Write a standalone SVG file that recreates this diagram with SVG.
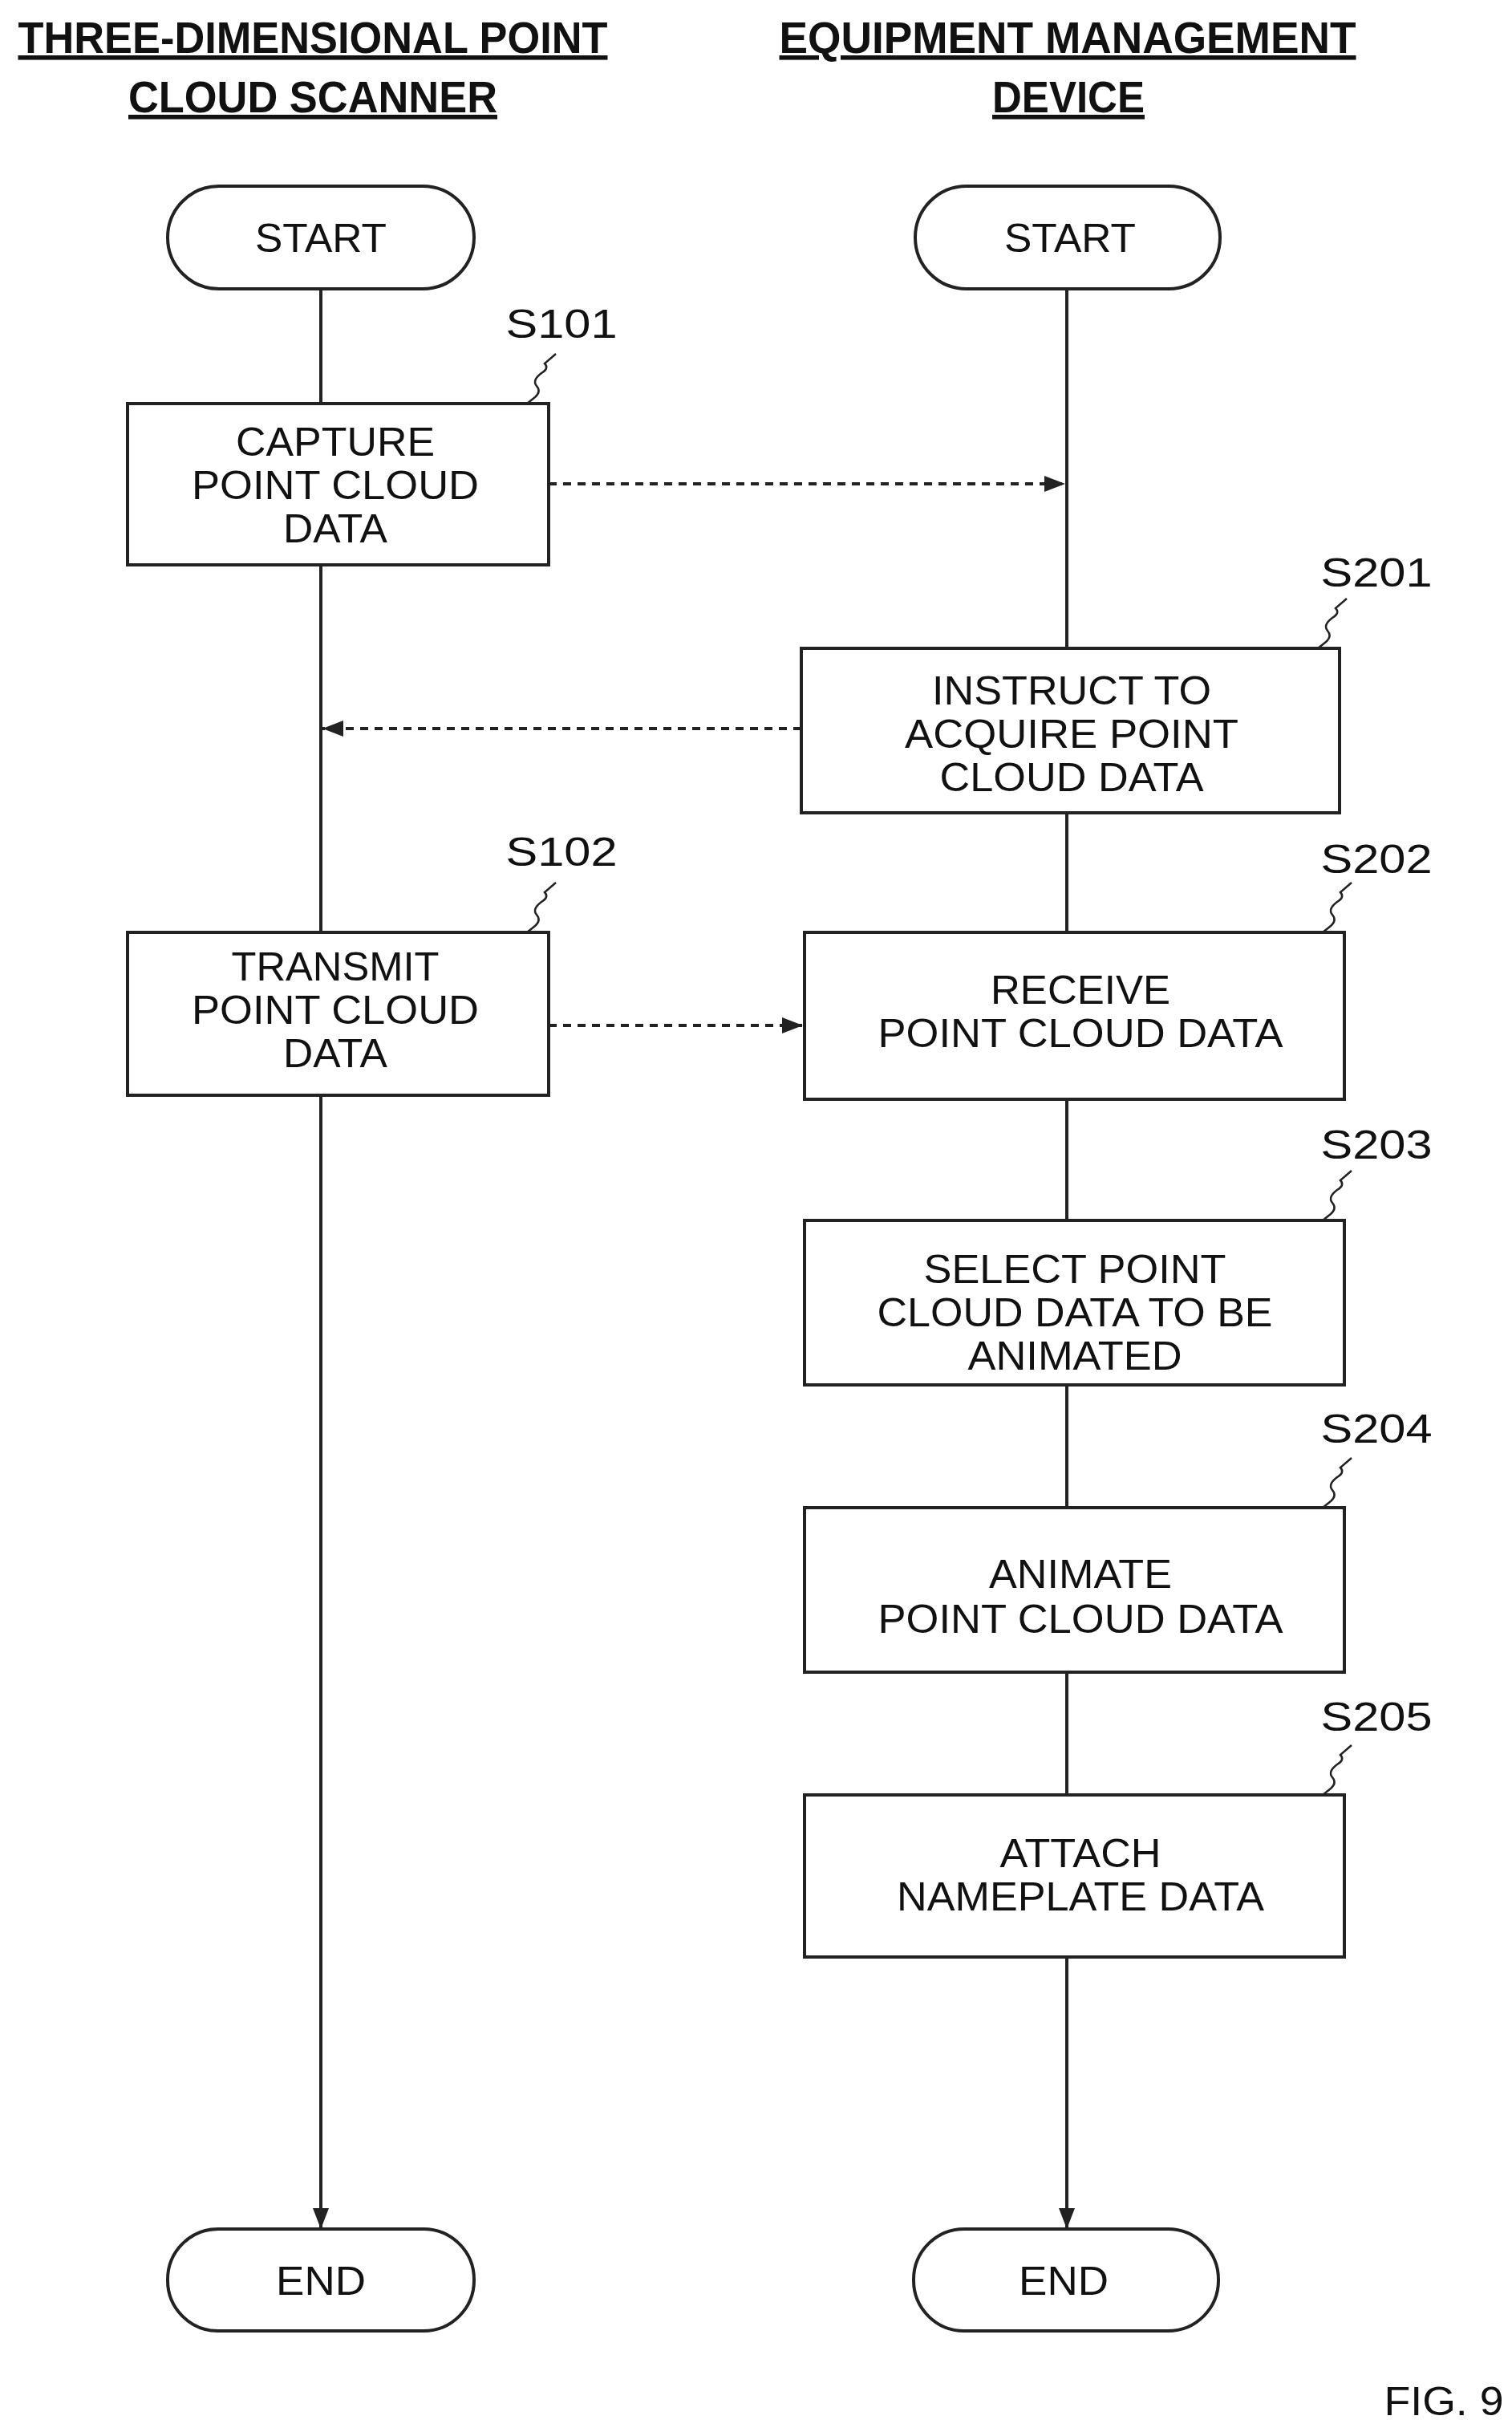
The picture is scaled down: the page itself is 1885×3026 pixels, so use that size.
<svg xmlns="http://www.w3.org/2000/svg" width="1885" height="3026" viewBox="0 0 1885 3026">
<style>
.t{font-family:"Liberation Sans",Arial,sans-serif;font-size:50px;fill:#111;text-anchor:middle}
.h{font-family:"Liberation Sans",Arial,sans-serif;font-size:56px;font-weight:bold;fill:#111;text-anchor:middle;text-decoration:underline}
.b{fill:#fff;stroke:#222;stroke-width:4}
.l{fill:none;stroke:#222;stroke-width:4}
.d{fill:none;stroke:#222;stroke-width:4;stroke-dasharray:10 8}
.sq{fill:none;stroke:#222;stroke-width:2.5}
</style>
<defs>
<marker id="a" viewBox="0 0 10 10" refX="10" refY="5" markerWidth="26" markerHeight="20" markerUnits="userSpaceOnUse" orient="auto" preserveAspectRatio="none">
<path d="M0,0 L10,5 L0,10 Z" fill="#222"/>
</marker>
<path id="sq" d="M0,0 l10,-8 q8,-7 2,-14 q-6,-7 6,-16 q10,-6 4,-12 l14,-12" class="sq"/>
</defs>
<g id="headers">
<text class="h" x="390" y="66" textLength="735" lengthAdjust="spacingAndGlyphs">THREE-DIMENSIONAL POINT</text>
<text class="h" x="390" y="140" textLength="460" lengthAdjust="spacingAndGlyphs">CLOUD SCANNER</text>
<text class="h" x="1331" y="66" textLength="719" lengthAdjust="spacingAndGlyphs">EQUIPMENT MANAGEMENT</text>
<text class="h" x="1332" y="140" textLength="190" lengthAdjust="spacingAndGlyphs">DEVICE</text>
</g>
<g id="connectors">
<path class="l" d="M400,360 V503 M400,704 V1162"/>
<path class="l" d="M400,1365 V2778" marker-end="url(#a)"/>
<path class="l" d="M1330,360 V808 M1330,1013 V1162 M1330,1370 V1521 M1330,1726 V1879 M1330,2084 V2237"/>
<path class="l" d="M1330,2439 V2778" marker-end="url(#a)"/>
<path class="d" d="M684,603 H1328" marker-end="url(#a)"/>
<path class="d" d="M999,908 H402" marker-end="url(#a)"/>
<path class="d" d="M684,1278 H1001" marker-end="url(#a)"/>
</g>
<g id="start1"><rect class="b" x="209" y="232" width="382" height="128" rx="64"/><text class="t" x="400" y="314" textLength="164" lengthAdjust="spacingAndGlyphs">START</text></g>
<g id="start2"><rect class="b" x="1141" y="232" width="380" height="128" rx="64"/><text class="t" x="1334" y="314" textLength="164" lengthAdjust="spacingAndGlyphs">START</text></g>
<g id="end1"><rect class="b" x="209" y="2778" width="382" height="127" rx="63"/><text class="t" x="400" y="2860" textLength="112" lengthAdjust="spacingAndGlyphs">END</text></g>
<g id="end2"><rect class="b" x="1139" y="2778" width="380" height="127" rx="63"/><text class="t" x="1326" y="2860" textLength="112" lengthAdjust="spacingAndGlyphs">END</text></g>
<g id="S101"><rect class="b" x="159" y="503" width="525" height="201"/>
<text class="t" x="418" y="568" textLength="248" lengthAdjust="spacingAndGlyphs">CAPTURE</text>
<text class="t" x="418" y="622" textLength="358" lengthAdjust="spacingAndGlyphs">POINT CLOUD</text>
<text class="t" x="418" y="676" textLength="130" lengthAdjust="spacingAndGlyphs">DATA</text>
<use href="#sq" x="657" y="503"/><text class="t" x="700" y="421" textLength="139" lengthAdjust="spacingAndGlyphs">S101</text></g>
<g id="S201"><rect class="b" x="999" y="808" width="671" height="205"/>
<text class="t" x="1336" y="878" textLength="348" lengthAdjust="spacingAndGlyphs">INSTRUCT TO</text>
<text class="t" x="1336" y="932" textLength="416" lengthAdjust="spacingAndGlyphs">ACQUIRE POINT</text>
<text class="t" x="1336" y="986" textLength="329" lengthAdjust="spacingAndGlyphs">CLOUD DATA</text>
<use href="#sq" x="1643" y="808"/><text class="t" x="1716" y="731" textLength="139" lengthAdjust="spacingAndGlyphs">S201</text></g>
<g id="S102"><rect class="b" x="159" y="1162" width="525" height="203"/>
<text class="t" x="418" y="1222" textLength="259" lengthAdjust="spacingAndGlyphs">TRANSMIT</text>
<text class="t" x="418" y="1276" textLength="358" lengthAdjust="spacingAndGlyphs">POINT CLOUD</text>
<text class="t" x="418" y="1330" textLength="130" lengthAdjust="spacingAndGlyphs">DATA</text>
<use href="#sq" x="657" y="1162"/><text class="t" x="700" y="1079" textLength="139" lengthAdjust="spacingAndGlyphs">S102</text></g>
<g id="S202"><rect class="b" x="1003" y="1162" width="673" height="208"/>
<text class="t" x="1347" y="1251" textLength="224" lengthAdjust="spacingAndGlyphs">RECEIVE</text>
<text class="t" x="1347" y="1305" textLength="505" lengthAdjust="spacingAndGlyphs">POINT CLOUD DATA</text>
<use href="#sq" x="1649" y="1162"/><text class="t" x="1716" y="1088" textLength="139" lengthAdjust="spacingAndGlyphs">S202</text></g>
<g id="S203"><rect class="b" x="1003" y="1521" width="673" height="205"/>
<text class="t" x="1340" y="1599" textLength="377" lengthAdjust="spacingAndGlyphs">SELECT POINT</text>
<text class="t" x="1340" y="1653" textLength="493" lengthAdjust="spacingAndGlyphs">CLOUD DATA TO BE</text>
<text class="t" x="1340" y="1707" textLength="267" lengthAdjust="spacingAndGlyphs">ANIMATED</text>
<use href="#sq" x="1649" y="1521"/><text class="t" x="1716" y="1444" textLength="139" lengthAdjust="spacingAndGlyphs">S203</text></g>
<g id="S204"><rect class="b" x="1003" y="1879" width="673" height="205"/>
<text class="t" x="1347" y="1979" textLength="228" lengthAdjust="spacingAndGlyphs">ANIMATE</text>
<text class="t" x="1347" y="2035" textLength="505" lengthAdjust="spacingAndGlyphs">POINT CLOUD DATA</text>
<use href="#sq" x="1649" y="1879"/><text class="t" x="1716" y="1798" textLength="139" lengthAdjust="spacingAndGlyphs">S204</text></g>
<g id="S205"><rect class="b" x="1003" y="2237" width="673" height="202"/>
<text class="t" x="1347" y="2327" textLength="201" lengthAdjust="spacingAndGlyphs">ATTACH</text>
<text class="t" x="1347" y="2381" textLength="458" lengthAdjust="spacingAndGlyphs">NAMEPLATE DATA</text>
<use href="#sq" x="1649" y="2237"/><text class="t" x="1716" y="2157" textLength="139" lengthAdjust="spacingAndGlyphs">S205</text></g>
<text class="t" x="1800" y="3010" textLength="149" lengthAdjust="spacingAndGlyphs">FIG. 9</text>
</svg>
